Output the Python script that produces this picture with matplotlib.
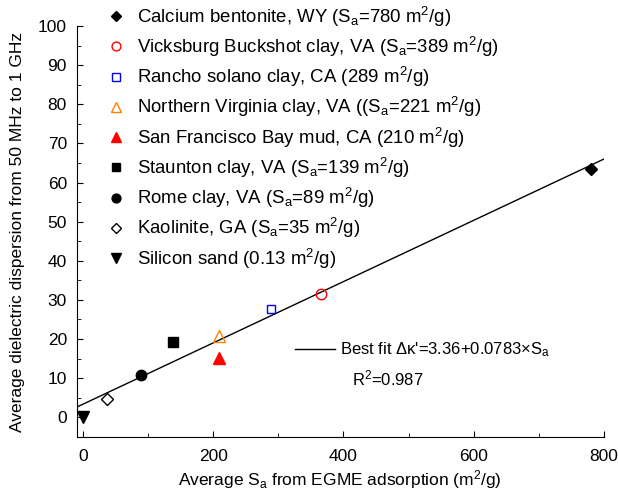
import numpy as np
import matplotlib.pyplot as plt
from matplotlib.lines import Line2D

plt.rcParams['font.family'] = ['Liberation Sans', 'DejaVu Sans']
plt.rcParams['mathtext.fontset'] = 'custom'
plt.rcParams['mathtext.rm'] = 'Liberation Sans'
plt.rcParams['mathtext.it'] = 'Liberation Sans'

# --- data ---
names = ['Calcium bentonite, WY (S$_\\mathrm{a}$=780 m$^2$/g)',
         'Vicksburg Buckshot clay, VA (S$_\\mathrm{a}$=389 m$^2$/g)',
         'Rancho solano clay, CA (289 m$^2$/g)',
         'Northern Virginia clay, VA ((S$_\\mathrm{a}$=221 m$^2$/g)',
         'San Francisco Bay mud, CA (210 m$^2$/g)',
         'Staunton clay, VA (S$_\\mathrm{a}$=139 m$^2$/g)',
         'Rome clay, VA (S$_\\mathrm{a}$=89 m$^2$/g)',
         'Kaolinite, GA (S$_\\mathrm{a}$=35 m$^2$/g)',
         'Silicon sand (0.13 m$^2$/g)']
sa = [780, 366, 289, 209, 209, 138, 89, 36, 0.13]
disp = [63.5, 31.6, 27.8, 20.8, 15.1, 19.3, 10.8, 4.7, 0.0]

# marker styles: (marker, facecolor, edgecolor, size)
styles = [('D', 'black', 'black', 6.0),
          ('o', 'none', '#ff0000', 7.5),
          ('s', 'none', '#0000ff', 6.0),
          ('^', 'none', '#ff8000', 8.5),
          ('^', '#ff0000', '#ff0000', 8.5),
          ('s', 'black', 'black', 6.5),
          ('o', 'black', 'black', 7.5),
          ('D', 'white', 'black', 6.0),
          ('v', 'black', 'black', 8.5)]

fit_a, fit_b = 3.36, 0.0783
r2 = 0.987

fig = plt.figure(figsize=(6.18, 4.93), dpi=100)
ax = fig.add_axes([0.124, 0.114, 0.853, 0.833])

xf = np.array([-10, 800])
ax.plot(xf, fit_a + fit_b * xf, color='black', lw=1)

handles = []
for x, y, nm, (m, fc, ec, ms) in zip(sa, disp, names, styles):
    h, = ax.plot(x, y, ls='none', marker=m, mfc=fc, mec=ec, ms=ms, mew=1, label=nm)
    handles.append(h)

ax.set_xlim(-10, 800)
ax.set_ylim(-5, 100)
ax.set_xticks([0, 200, 400, 600, 800])
ax.set_xticks(np.arange(100, 800, 200), minor=True)
ax.set_yticks(np.arange(0, 101, 10))
ax.set_yticks(np.arange(5, 100, 10), minor=True)
ax.spines['top'].set_visible(False)
ax.spines['right'].set_visible(False)
ax.tick_params(which='both', direction='in', labelsize=12.5)
ax.tick_params(which='major', length=4)
ax.tick_params(which='minor', length=3)
ax.tick_params(axis='x', pad=9)
ax.tick_params(axis='y', pad=7)

ax.set_xlabel('Average S$_\\mathrm{a}$ from EGME adsorption (m$^2$/g)', fontsize=12.5, labelpad=3)
ax.set_ylabel('Average dielectric dispersion from 50 MHz to 1 GHz', fontsize=12.5, labelpad=9)

leg = ax.legend(handles=handles, loc='upper left', bbox_to_anchor=(0.158, 1.006),
                bbox_transform=fig.transFigure, frameon=False, fontsize=13.4,
                labelspacing=0.33, handletextpad=0.5, handlelength=1.2, borderaxespad=0,
                markerscale=0.85)
ax.add_artist(leg)

fit_line = Line2D([], [], color='black', lw=1)
ax.legend([fit_line], ["Best fit \u0394\u03ba'=3.36+0.0783\u00d7S$_\\mathrm{a}$"],
          loc='center left', bbox_to_anchor=(0.466, 0.29), bbox_transform=fig.transFigure,
          frameon=False, fontsize=12, handlelength=2.4, handletextpad=0.3, borderaxespad=0)
fig.text(0.569, 0.218, 'R$^2$=%.3f' % r2, fontsize=12)

fig.savefig('out.png', dpi=100)
